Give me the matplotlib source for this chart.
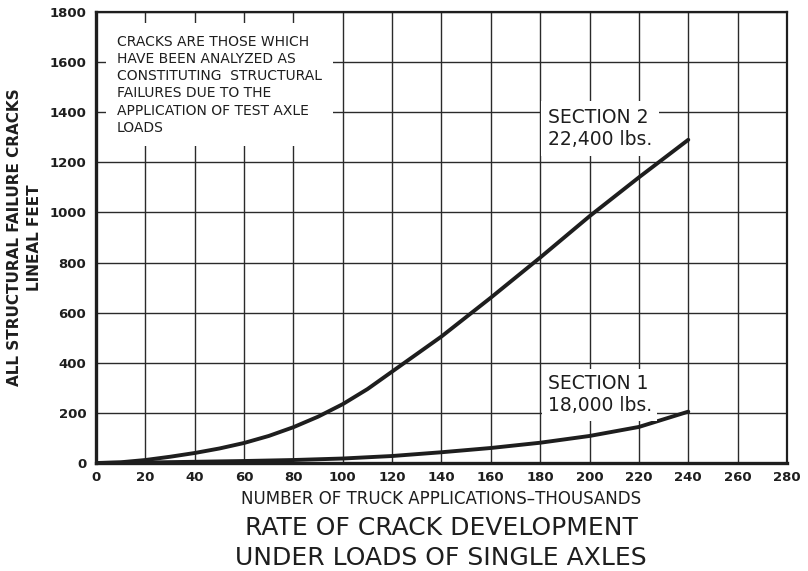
import matplotlib.pyplot as plt

# Readings (thousands of trucks vs lineal feet)
sec2_x = [0, 10, 20, 30, 40, 50, 60, 70, 80, 90, 100, 110, 120, 130, 140, 160, 180, 200, 220, 240]
sec2_y = [0, 3, 12, 25, 40, 58, 80, 108, 143, 185, 235, 295, 365, 435, 505, 660, 820, 985, 1140, 1290]

sec1_x = [0, 20, 40, 60, 80, 100, 120, 140, 160, 180, 200, 220, 240]
sec1_y = [0, 2, 5, 8, 12, 18, 28, 43, 60, 81, 108, 144, 205]

x_ticks = list(range(0, 281, 20))
y_ticks = list(range(0, 1801, 200))

note = ("CRACKS ARE THOSE WHICH\nHAVE BEEN ANALYZED AS\nCONSTITUTING  STRUCTURAL\n"
        "FAILURES DUE TO THE\nAPPLICATION OF TEST AXLE\nLOADS")
sec2_label = "SECTION 2\n22,400 lbs."
sec1_label = "SECTION 1\n18,000 lbs."

ink = '#1e1e1e'
plt.rcParams['font.family'] = 'DejaVu Sans'

fig = plt.figure(figsize=(8.08, 5.71), dpi=100)
ax = fig.add_axes([0.1188, 0.1891, 0.8552, 0.7899])

ax.set_xlim(0, 280)
ax.set_ylim(0, 1800)
ax.set_xticks(x_ticks)
ax.set_yticks(y_ticks)
ax.grid(True, color='#2a2a2a', linewidth=1.0)
ax.set_axisbelow(True)
ax.tick_params(length=0, labelsize=9.5, colors=ink)
ax.tick_params(axis='x', pad=6)
ax.tick_params(axis='y', pad=7)
for lab in ax.get_xticklabels() + ax.get_yticklabels():
    lab.set_fontweight('bold')

for side in ['left', 'bottom']:
    ax.spines[side].set_linewidth(2.4)
for side in ['top', 'right']:
    ax.spines[side].set_linewidth(1.6)
for sp in ax.spines.values():
    sp.set_color(ink)

ax.plot(sec2_x, sec2_y, color=ink, linewidth=2.8, solid_capstyle='round', zorder=3)
ax.plot(sec1_x, sec1_y, color=ink, linewidth=2.8, solid_capstyle='round', zorder=3)

ax.text(8.5, 1710, note, fontsize=10, color=ink, va='top', ha='left', linespacing=1.3,
        bbox=dict(facecolor='white', edgecolor='none', pad=8), zorder=4)
ax.text(183, 1335, sec2_label, fontsize=13.5, color=ink, va='center', ha='left', linespacing=1.2,
        bbox=dict(facecolor='white', edgecolor='none', pad=5), zorder=4)
ax.text(183, 272, sec1_label, fontsize=13.5, color=ink, va='center', ha='left', linespacing=1.2,
        bbox=dict(facecolor='white', edgecolor='none', pad=4), zorder=4)

ax.set_xlabel("NUMBER OF TRUCK APPLICATIONS\u2013THOUSANDS", fontsize=12, color=ink, labelpad=4)
ax.set_ylabel("ALL STRUCTURAL FAILURE CRACKS\nLINEAL FEET", fontsize=11, color=ink,
              labelpad=5, linespacing=1.45, fontweight='bold')

fig.text(0.546, 0.049, "RATE OF CRACK DEVELOPMENT\nUNDER LOADS OF SINGLE AXLES",
         fontsize=18, color=ink, ha='center', va='center', linespacing=1.32)

fig.savefig('out.png', dpi=100, facecolor='white')
